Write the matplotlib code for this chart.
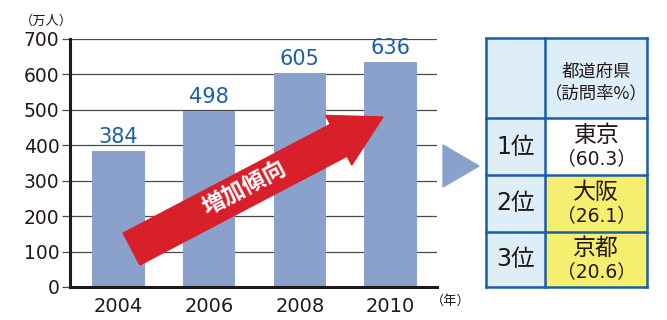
import numpy as np
import matplotlib
matplotlib.use("Agg")
import matplotlib.pyplot as plt
from matplotlib.patches import Polygon, Rectangle

plt.rcParams["font.family"] = ["DejaVu Sans", "Noto Sans CJK JP"]

years = ["2004", "2006", "2008", "2010"]
visitors = [384, 498, 605, 636]
y_ticks = [0, 100, 200, 300, 400, 500, 600, 700]

ranks = ["1位", "2位", "3位"]
prefectures = ["東京", "大阪", "京都"]
rates = ["（60.3）", "（26.1）", "（20.6）"]

W, H = 667, 320
dark = "#231815"
bar_color = "#8aa1cc"
label_blue = "#1d5fa6"
border_blue = "#1a5ea8"
light_blue = "#ddeef9"
yellow = "#f6ee6f"

fig = plt.figure(figsize=(W / 100, H / 100), dpi=100)

# bar chart
ax = fig.add_axes([70 / W, (H - 287) / H, (437 - 70) / W, (287 - 39) / H])
x = np.arange(len(years))
ax.bar(x, visitors, width=0.58, color=bar_color, zorder=2)
for xi, v in zip(x, visitors):
    ax.text(xi, v + 39, str(v), ha="center", va="center",
            fontsize=15, color=label_blue)
ax.set_xlim(-0.533, 3.51)
ax.set_ylim(0, 700)
ax.set_yticks(y_ticks)
ax.set_xticks(x)
ax.set_xticklabels(years)
ax.grid(axis="y", color="#4a4a4a", linewidth=0.9, zorder=1)
ax.tick_params(axis="y", length=6, width=0.9, color="#4a4a4a", pad=1.5,
               labelsize=13.5, labelcolor=dark)
ax.tick_params(axis="x", length=0, pad=7, labelsize=14, labelcolor=dark)
for s in ["top", "right"]:
    ax.spines[s].set_visible(False)
for s in ["left", "bottom"]:
    ax.spines[s].set_linewidth(2.2)
    ax.spines[s].set_color(dark)
    ax.spines[s].set_zorder(3)

fig.text(20 / W, 1 - 21 / H, "（万人）", fontsize=9.5, color=dark,
         ha="left", va="center", family=["Noto Sans CJK JP"])
fig.text(431 / W, 1 - 301 / H, "（年）", fontsize=9.5, color=dark,
         ha="left", va="center", family=["Noto Sans CJK JP"])

# overlay in pixel coordinates
ov = fig.add_axes([0, 0, 1, 1])
ov.set_xlim(0, W)
ov.set_ylim(H, 0)
ov.axis("off")
ov.patch.set_alpha(0)

# red arrow
tail = np.array([131.5, 249.0])
tip = np.array([383.0, 117.0])
u = (tip - tail) / np.linalg.norm(tip - tail)
n = np.array([-u[1], u[0]])
body_w, head_w, head_l = 36, 56, 50
base = tip - head_l * u
pts = [tail + n * body_w / 2, base + n * body_w / 2, base + n * head_w / 2, tip,
       base - n * head_w / 2, base - n * body_w / 2, tail - n * body_w / 2]
ov.add_patch(Polygon(pts, closed=True, color="#d7202a", zorder=5))
ang = np.degrees(np.arctan2(-u[1], u[0]))
ov.text(245, 189, "増加傾向", rotation=ang, ha="center", va="center",
        rotation_mode="anchor", fontsize=16.5, fontweight="bold", color="white",
        family=["Noto Sans CJK JP"], zorder=6)

# triangle pointer
ov.add_patch(Polygon([[443, 145], [443, 187], [479, 166]], closed=True,
                     color=bar_color))

# table
col_x = [486, 545, 647]
row_y = [38, 118, 175, 232, 287]
fills = ["white", yellow, yellow]
ov.add_patch(Rectangle((col_x[0], row_y[0]), col_x[2] - col_x[0],
                       row_y[-1] - row_y[0], facecolor=light_blue,
                       edgecolor="none"))
for i in range(3):
    ov.add_patch(Rectangle((col_x[1], row_y[i + 1]), col_x[2] - col_x[1],
                           row_y[i + 2] - row_y[i + 1], facecolor=fills[i],
                           edgecolor="none"))
for yy in row_y:
    ov.plot([col_x[0], col_x[2]], [yy, yy], color=border_blue, lw=1.8,
            solid_capstyle="projecting")
for xx in col_x:
    ov.plot([xx, xx], [row_y[0], row_y[-1]], color=border_blue, lw=1.8,
            solid_capstyle="projecting")

cx2 = (col_x[1] + col_x[2]) / 2
cx1 = (col_x[0] + col_x[1]) / 2
ov.text(cx2, 72, "都道府県", ha="center", va="center", fontsize=12.5,
        color=dark, family=["Noto Sans CJK JP"])
ov.text(cx2, 93, "（訪問率%）", ha="center", va="center", fontsize=12.5,
        color=dark, family=["Noto Sans CJK JP"])
for i in range(3):
    yc = (row_y[i + 1] + row_y[i + 2]) / 2
    ov.text(cx1, yc, ranks[i], ha="center", va="center", fontsize=17,
            color=dark)
    ov.text(cx2, yc - 11, prefectures[i], ha="center", va="center",
            fontsize=16.5, color=dark, family=["Noto Sans CJK JP"])
    ov.text(cx2, yc + 12, rates[i], ha="center", va="center", fontsize=13.5,
            color=dark)

fig.savefig("out.png", dpi=100)
